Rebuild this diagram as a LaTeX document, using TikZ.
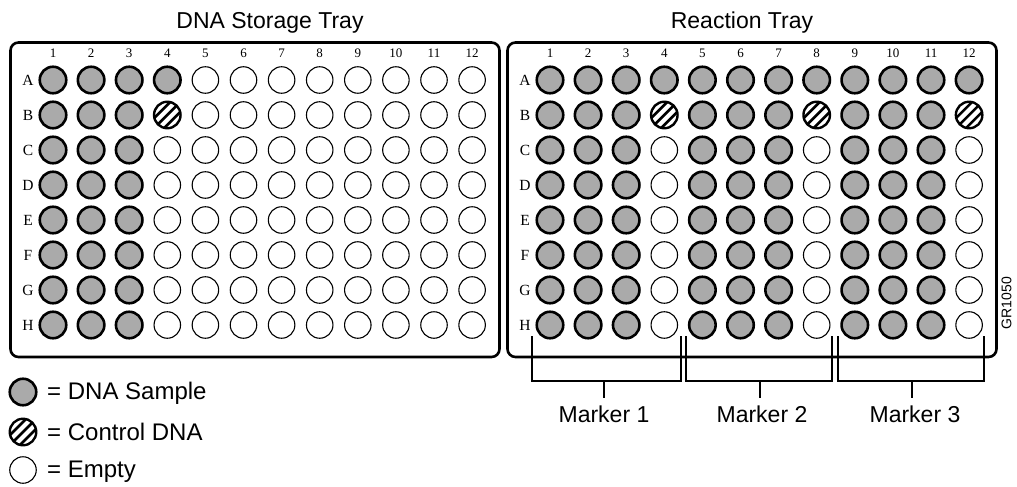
\documentclass[tikz,border=0pt]{standalone}
\usepackage{fontspec}
\setmainfont{Liberation Sans}
\newfontfamily\seriffont{Liberation Serif}
\definecolor{wellgray}{RGB}{170,170,170}
\begin{document}
\begin{tikzpicture}[x=1pt,y=-1pt,
  well/.style={circle, minimum size=26.5pt, inner sep=0pt},
  dnawell/.style={well, draw, fill=wellgray, line width=2.6pt},
  ctrlwell/.style={well, draw, fill=white, line width=2.4pt,
    path picture={\foreach \k in {-2,...,2}
      \draw[line width=2.6pt, shift={(path picture bounding box.center)}] (\k*10-20,20) -- ++(40,-40);}},
  emptywell/.style={well, draw, fill=white, line width=1.1pt},
  tray/.style={draw, line width=2.6pt, rounded corners=8pt},
  title/.style={font=\fontsize{23}{27}\selectfont, anchor=base, inner sep=0pt},
  collbl/.style={font=\seriffont\fontsize{13}{15}\selectfont, inner sep=0pt},
  rowlbl/.style={font=\seriffont\fontsize{15.5}{17}\selectfont, inner sep=0pt},
  legtext/.style={font=\fontsize{24}{28}\selectfont, anchor=base west, inner sep=0pt},
  mlabel/.style={font=\fontsize{23}{27}\selectfont, anchor=base, inner sep=0pt},
  bracket/.style={draw, line width=1.3pt},
  code/.style={font=\fontsize{14}{16}\selectfont, rotate=90, inner sep=0pt}
]
\useasboundingbox (0,0) rectangle (1017,487);

% titles
\node[title] (t1) at (270,28.3) {DNA Storage Tray};
\node[title] (t2) at (742,28.3) {Reaction Tray};

% trays
\draw[tray] (10.5,42.5) rectangle (499.5,357);
\draw[tray] (507.5,42.5) rectangle (996.5,357);

% labels
\foreach \tr/\ox in {L/0,R/497}{
  \foreach \c in {1,...,12}{
    \node[collbl] (\tr-col-\c) at ({53+38.1*(\c-1)+\ox},53) {\c};
  }
  \foreach \row [count=\ri from 0] in {A,B,C,D,E,F,G,H}{
    \node[rowlbl] (\tr-lbl-\row) at (28+\ox,{80+35*\ri}) {\row};
  }
}

% left tray wells
\foreach \row [count=\ri from 0] in {A,B,C,D,E,F,G,H}{
  \foreach \c in {1,2,3}{
    \node[dnawell] (L-\row-\c) at ({53+38.1*(\c-1)},{80+35*\ri}) {};
  }
  \foreach \c in {5,...,12}{
    \node[emptywell] (L-\row-\c) at ({53+38.1*(\c-1)},{80+35*\ri}) {};
  }
}
\node[dnawell] (L-A-4) at ({53+38.1*3},80) {};
\node[ctrlwell] (L-B-4) at ({53+38.1*3},115) {};
\foreach \row [count=\ri from 2] in {C,D,E,F,G,H}{
  \node[emptywell] (L-\row-4) at ({53+38.1*3},{80+35*\ri}) {};
}

% right tray wells
\foreach \g in {0,1,2}{
  \foreach \row [count=\ri from 0] in {A,B,C,D,E,F,G,H}{
    \foreach \j in {1,2,3}{
      \pgfmathtruncatemacro{\c}{4*\g+\j}
      \node[dnawell] (R-\row-\c) at ({550+38.1*(\c-1)},{80+35*\ri}) {};
    }
  }
  \pgfmathtruncatemacro{\cc}{4*\g+4}
  \node[dnawell] (R-A-\cc) at ({550+38.1*(\cc-1)},80) {};
  \node[ctrlwell] (R-B-\cc) at ({550+38.1*(\cc-1)},115) {};
  \foreach \row [count=\ri from 2] in {C,D,E,F,G,H}{
    \node[emptywell] (R-\row-\cc) at ({550+38.1*(\cc-1)},{80+35*\ri}) {};
  }
}

% code
\node[code] (gr) at (1006.5,303) {GR1050};

% markers
\foreach \n/\xl/\xr/\xm in {1/532/681/604, 2/686/832/760, 3/838/984/912}{
  \coordinate (b\n tl) at (\xl,336);
  \coordinate (b\n bl) at (\xl,381);
  \coordinate (b\n br) at (\xr,381);
  \coordinate (b\n tr) at (\xr,336);
  \coordinate (b\n m) at (\xm,381);
  \coordinate (b\n e) at (\xm,398);
  \draw[bracket] (b\n tl) -- (b\n bl) -- (b\n br) -- (b\n tr);
  \draw[bracket] (b\n m) -- (b\n e);
}
\node[mlabel] (m1) at (604,422) {Marker 1};
\node[mlabel] (m2) at (762,422) {Marker 2};
\node[mlabel] (m3) at (915,422) {Marker 3};

% legend
\node[dnawell] (leg1) at (23,392) {};
\node[ctrlwell] (leg2) at (23,432) {};
\node[emptywell] (leg3) at (23,470) {};
\node[legtext] (lt1) at (47,399.5) {= DNA Sample};
\node[legtext] (lt2) at (47,440) {= Control DNA};
\node[legtext] (lt3) at (47,477.5) {= Empty};
\end{tikzpicture}
\end{document}
